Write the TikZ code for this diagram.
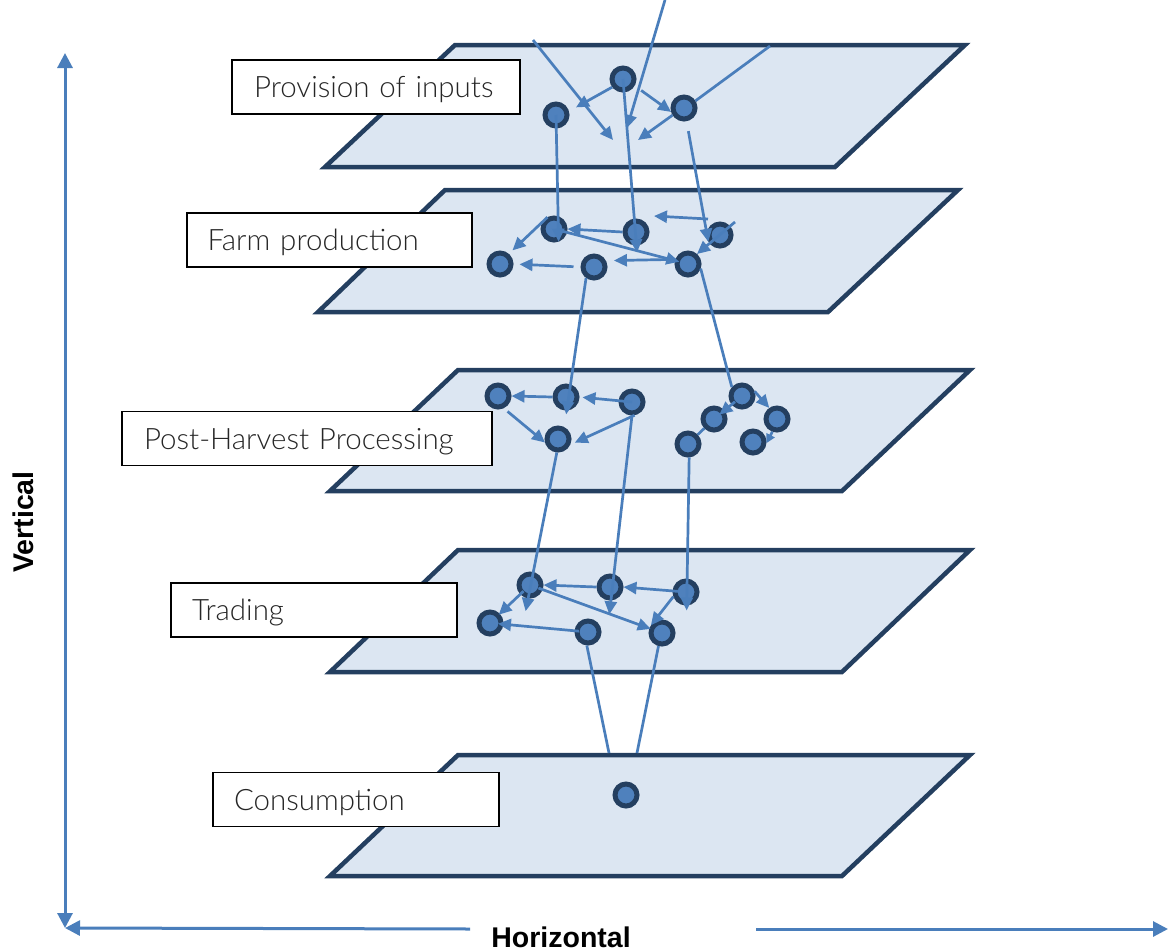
\documentclass[tikz,border=0pt]{standalone}
\usepackage{fontspec}
\setmainfont{Liberation Sans}
\newfontfamily\lblfont{Lato Light}
\usetikzlibrary{arrows.meta}

\definecolor{planefill}{HTML}{DCE6F2}
\definecolor{planeedge}{HTML}{243F60}
\definecolor{dotfill}{HTML}{4F81BD}
\definecolor{dotedge}{HTML}{243F60}
\definecolor{linkblue}{HTML}{4A7EBB}
\definecolor{lbltext}{HTML}{262626}

\tikzset{
  plane/.style={draw=planeedge, fill=planefill, line width=4.5pt, line join=miter},
  lbl/.style={draw=black, line width=1.3pt, fill=white, minimum height=54pt,
    minimum width=288pt, text width=244pt, align=left, inner sep=0pt,
    text height=21pt, text depth=0pt,
    text=lbltext, font=\lblfont\fontsize{29.5}{32}\selectfont},
  dot/.style={circle, draw=dotedge, fill=dotfill, line width=5pt,
    minimum size=22pt, inner sep=0pt},
  conn/.style={draw=linkblue, line width=2.7pt},
  arr/.style={conn, -{Triangle[length=13pt,width=12pt]}},
  smallarr/.style={conn, -{Triangle[length=9pt,width=9pt]}},
  axis/.style={draw=linkblue, line width=3pt},
  axlbl/.style={font=\bfseries\fontsize{28.5}{32}\selectfont, inner sep=0pt},
}

\begin{document}
\begin{tikzpicture}[x=1pt, y=-1pt]
\useasboundingbox (0,0) rectangle (1171,951);

% value-chain layers, back to front
\path[plane] (455,45) -- (965,45) -- (835,167) -- (325,167) -- cycle;
\path[plane] (445,190) -- (958,190) -- (828,312) -- (318,312) -- cycle;
\path[plane] (458,370) -- (970,370) -- (842,491) -- (330,491) -- cycle;
\path[plane] (458,550) -- (970,550) -- (842,672) -- (330,672) -- cycle;
\path[plane] (458,755) -- (970,755) -- (842,876) -- (330,876) -- cycle;

% layer labels
\node[lbl] (lab1) at (376,87) {Provision of inputs};
\node[lbl, minimum width=285pt] (lab2) at (329.5,240) {Farm production};
\node[lbl, minimum width=370pt, text width=326pt] (lab3) at (307,438.5) {Post-Harvest Processing};
\node[lbl, minimum width=286pt] (lab4) at (314,610) {Trading};
\node[lbl, minimum width=286pt] (lab5) at (356,799.5) {Consumption};

% actors: inputs
\node[dot] (A1) at (623,79) {};
\node[dot] (A2) at (556,115) {};
\node[dot] (A3) at (684,108) {};
% actors: farm production
\node[dot] (B1) at (554,229) {};
\node[dot] (B2) at (636,232) {};
\node[dot] (B3) at (500,264) {};
\node[dot] (B4) at (594,267) {};
\node[dot] (B5) at (720,235) {};
\node[dot] (B6) at (688,264) {};
% actors: post-harvest processing
\node[dot] (C1) at (498,396) {};
\node[dot] (C2) at (566,397) {};
\node[dot] (C3) at (632,402) {};
\node[dot] (C4) at (558,439) {};
\node[dot] (C5) at (742,396) {};
\node[dot] (C6) at (714,419) {};
\node[dot] (C7) at (777,419) {};
\node[dot] (C8) at (688,444) {};
\node[dot] (C9) at (753,442) {};
% actors: trading
\node[dot] (D1) at (530,585) {};
\node[dot] (D2) at (610,587) {};
\node[dot] (D3) at (686,592) {};
\node[dot] (D4) at (490,623) {};
\node[dot] (D5) at (588,632) {};
\node[dot] (D6) at (662,633) {};
% consumer
\node[dot] (E1) at (626,795) {};

% loose ends of flows
\coordinate (inA) at (533,40);
\coordinate (tA) at (613,140);
\coordinate (inB) at (665,0);
\coordinate (tB) at (627,128);
\coordinate (inC) at (770,46);
\coordinate (tC) at (638,140);
\coordinate (f1s) at (708,219);
\coordinate (f1e) at (654,216);
\coordinate (f2s) at (735,222);
\coordinate (k1) at (609,753);
\coordinate (k2) at (637,753);

% flows within inputs
\draw[arr, shorten >=8pt] (A1.217) -- (A2.16);
\draw[arr, shorten <=8pt] (A1.-30) -- (A3.197);
\draw[arr] (inA) -- (tA);
\draw[arr] (inB) -- (tB);
\draw[conn] (inC) -- (A3.32);
\draw[arr] (A3.212) -- (tC);
% inputs to farms
\draw[arr] (A2.center) -- (B1.-70);
\draw[arr, shorten >=-7pt] (A1.center) -- (B2.-88);
\draw[arr, shorten <=10pt] (A3.-79) -- (B5.210);
% flows within farm production
\draw[arr] (f1s) -- (f1e);
\draw[arr] (f2s) -- (B6.48);
\draw[arr] (B2.west) -- (B1.east);
\draw[arr, shorten <=9pt, shorten >=9pt] (B1.center) -- (B6.center);
\draw[arr, shorten >=8pt] (B6.160) -- (B4.28);
\draw[arr, shorten >=5pt] (B1.119) -- (B3.49);
\draw[arr, shorten <=7pt, shorten >=6pt] (B4.west) -- (B3.east);
% farms to processing
\draw[arr, shorten >=-4pt] (B4.234) -- (C2.-87);
\draw[conn] (B6.-20) -- (C5.139);
% flows within processing
\draw[arr] (C2.west) -- (C1.east);
\draw[arr, shorten >=3pt] (C3.center) -- (C2.east);
\draw[arr, shorten <=5pt] (C1.-65) -- (C4.195);
\draw[arr, shorten >=5pt] (C3.-79) -- (C4.-25);
\draw[arr, shorten <=9pt, shorten >=7pt] (C5.center) -- (C6.center);
\draw[arr] (C5.20) -- (C7.125);
\draw[smallarr] (C7.-110) -- (C9.-5);
\draw[conn] (C6) -- (C8);
% processing to trading
\draw[arr, shorten >=-13pt] (C4.-95) -- (D1.-98);
\draw[arr, shorten >=-14pt] (C3.-90) -- (D2.-86);
\draw[arr, shorten >=-5pt] (C8.-85) -- (D3.-87);
% flows within trading
\draw[arr] (D2.west) -- (D1.east);
\draw[arr, shorten <=8pt] (D3.center) -- (D2.east);
\draw[arr, shorten <=9pt, shorten >=12pt] (D1.center) -- (D4.center);
\draw[arr, shorten <=9pt, shorten >=8pt] (D5.center) -- (D4.center);
\draw[arr, shorten <=9pt, shorten >=12pt] (D1.center) -- (D6.center);
\draw[arr] (D3.200) -- (D6.145);
% trading to consumption
\draw[conn] (D5.-95) -- (k1);
\draw[conn] (D6.-105) -- (k2);

% axes
\coordinate (vtop) at (65,53);
\coordinate (org) at (65,928);
\coordinate (hl) at (470,929);
\coordinate (hr) at (756,929);
\coordinate (hend) at (1168,929);
\draw[axis, {Triangle[length=15pt,width=15pt]}-{Triangle[length=15pt,width=15pt]}] (vtop) -- (org);
\draw[axis, -{Triangle[length=15pt,width=15pt]}] (hl) -- (org);
\draw[axis, -{Triangle[length=15pt,width=15pt]}] (hr) -- (hend);
\node[axlbl, rotate=90, anchor=base] (vlab) at (33,522) {Vertical};
\node[axlbl, anchor=base] (hlab) at (561,947) {Horizontal};
\end{tikzpicture}
\end{document}
